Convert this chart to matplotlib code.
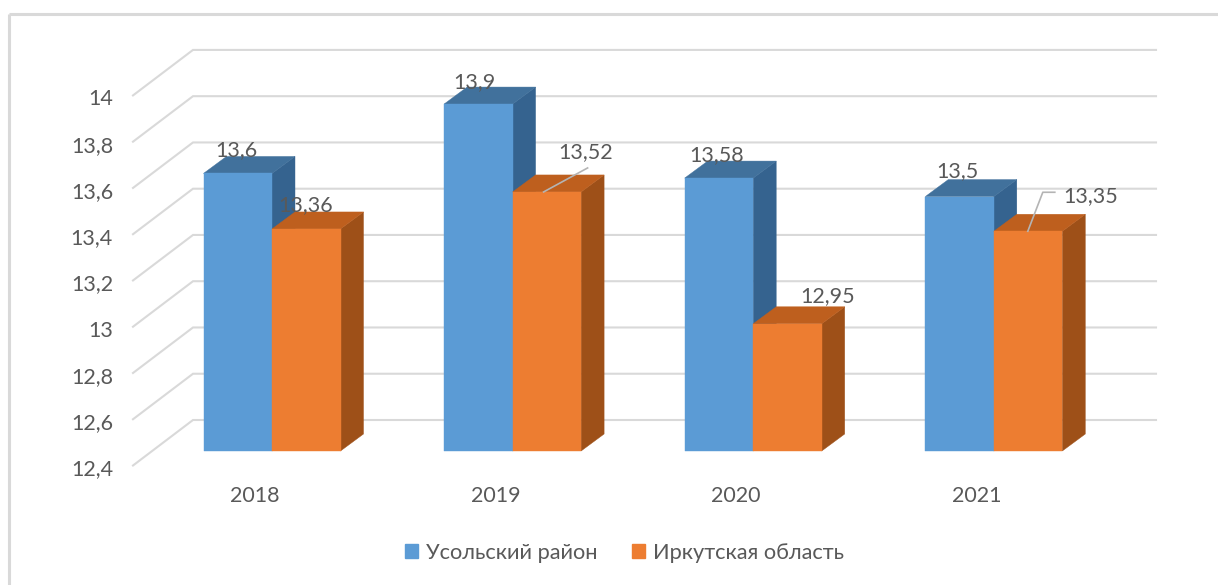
import matplotlib
matplotlib.use("Agg")
import matplotlib.pyplot as plt
from matplotlib.patches import Polygon, Patch

years = ["2018", "2019", "2020", "2021"]
series_names = ["Усольский район", "Иркутская область"]
usolye = [13.6, 13.9, 13.58, 13.5]
irkutsk = [13.36, 13.52, 12.95, 13.35]
y_ticks = [12.4, 12.6, 12.8, 13.0, 13.2, 13.4, 13.6, 13.8, 14.0]

W, H = 1218, 585
plt.rcParams["font.family"] = ["Lato", "Open Sans", "DejaVu Sans"]
TXT = "#595959"
GRID = "#d9d9d9"
FS = 15.5

fig = plt.figure(figsize=(W / 100, H / 100), dpi=100, facecolor="white")
ax = fig.add_axes([0, 0, 1, 1])
ax.axis("off")

# scales: one category = 240.6 px, one unit = 231.3 px
PX_X, PX_Y = 240.6, 231.3
BASE = 12.4
ax.set_xlim(-272 / PX_X, (W - 272) / PX_X)
ax.set_ylim(BASE - (H - 451) / PX_Y, BASE + 451 / PX_Y)

def px(dx):
    return dx / PX_X
def py(dy):
    return dy / PX_Y

# chart frame
ax.plot([px(9) - 272 / PX_X] * 2, [ax.get_ylim()[0], BASE + (451 - 14) / PX_Y], color=GRID, lw=2.2, solid_capstyle="butt")
ax.plot([px(9) - 272 / PX_X, ax.get_xlim()[1]], [BASE + (451 - 14) / PX_Y] * 2, color=GRID, lw=2.2, solid_capstyle="butt")

# back wall / floor offsets of the 3D box
wall_dx, wall_dy = px(60), py(45.5)
front_x = px(133 - 272)
front_dy = py(-14.5)
right_x = px(1156 - 272)
for v in y_ticks:
    y0 = v + front_dy
    ax.plot([front_x, front_x + wall_dx, right_x], [y0, y0 + wall_dy, y0 + wall_dy],
            color=GRID, lw=1.5, solid_joinstyle="miter", zorder=1)
    label = f"{v:g}".replace(".", ",")
    ax.text(px(113 - 272), y0 + py(-4), label, ha="right", va="center", fontsize=FS, color=TXT)

# 3D bars
bw = px(68.5)
dep_x, dep_y = px(23), py(17)
def bar3d(x0, v, front, top, side, z):
    x1 = x0 + bw
    ax.add_patch(Polygon([(x1, BASE), (x1 + dep_x, BASE + dep_y), (x1 + dep_x, v + dep_y), (x1, v)], fc=side, ec=side, lw=0.3, zorder=z))
    ax.add_patch(Polygon([(x0, v), (x0 + dep_x, v + dep_y), (x1 + dep_x, v + dep_y), (x1, v)], fc=top, ec=top, lw=0.3, zorder=z))
    ax.add_patch(Polygon([(x0, BASE), (x0, v), (x1, v), (x1, BASE)], fc=front, ec=front, lw=0.3, zorder=z))

BLUE, BLUE_TOP, BLUE_SIDE = "#5B9BD5", "#41719C", "#35638F"
ORANGE, ORANGE_TOP, ORANGE_SIDE = "#ED7D31", "#BE5F1E", "#9E5018"
for i in range(len(years)):
    bar3d(i - bw, usolye[i], BLUE, BLUE_TOP, BLUE_SIDE, 3 + i)
    bar3d(i, irkutsk[i], ORANGE, ORANGE_TOP, ORANGE_SIDE, 3 + i)
    ax.text(i - px(17), BASE - py(44.5), years[i], ha="center", va="center", fontsize=FS, color=TXT, zorder=20)

# data labels: pixel offsets from the front-top centre of each bar
off_blue = [(-1, 23), (-4, 22), (-2, 23), (-2, 25)]
off_orange = [(-1, 24), (39, 40), (40, 28), (63, 35)]
for i in range(len(years)):
    for vals, sign, offs in ((usolye, -1, off_blue), (irkutsk, 1, off_orange)):
        v = vals[i]
        cx = i + sign * bw / 2
        ox, oy = offs[i]
        ax.text(cx + px(ox), v + py(oy), f"{v:g}".replace(".", ","), ha="center", va="center",
                fontsize=FS, color=TXT, zorder=21)

# leader lines
ax.plot([1 + px(31), 1 + px(75)], [irkutsk[1], irkutsk[1] + py(24)], color="#b4b4b4", lw=1.2, zorder=20)
ax.plot([3 + px(34), 3 + px(49), 3 + px(61)], [irkutsk[3], irkutsk[3] + py(39), irkutsk[3] + py(39)], color="#b4b4b4", lw=1.2, zorder=20)

handles = [Patch(fc=BLUE, ec=BLUE), Patch(fc=ORANGE, ec=ORANGE)]
fig.legend(handles, series_names, loc="center", bbox_to_anchor=(624.5 / W, 1 - 553 / H), ncol=2, frameon=False,
           fontsize=15.7, labelcolor=TXT, handlelength=0.6, handleheight=0.6, handletextpad=0.35,
           columnspacing=1.6, borderpad=0)

fig.savefig("out.png", dpi=100, facecolor="white")
